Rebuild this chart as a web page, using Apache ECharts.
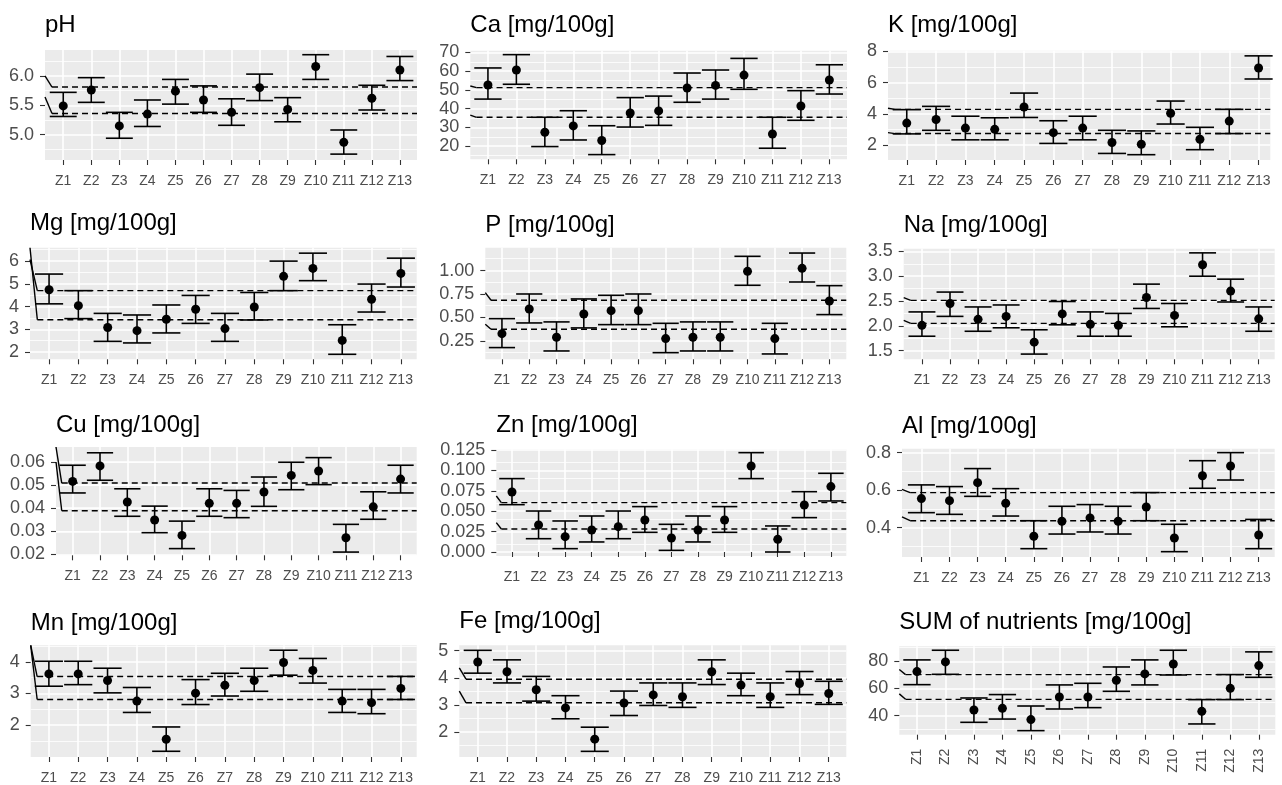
<!DOCTYPE html>
<html><head><meta charset="utf-8">
<script src="https://cdn.jsdelivr.net/npm/echarts@6/dist/echarts.min.js"></script>
<style>html,body{margin:0;padding:0;background:#fff}#c{width:1282px;height:785px}</style>
</head><body><div id="c"></div>
<script>
const categories = ['Z1','Z2','Z3','Z4','Z5','Z6','Z7','Z8','Z9','Z10','Z11','Z12','Z13'];

// pH
const meanPH = [5.49,5.76,5.15,5.35,5.74,5.59,5.38,5.80,5.43,6.16,4.87,5.62,6.10];
const lowPH  = [5.31,5.55,4.94,5.14,5.52,5.38,5.16,5.58,5.22,5.94,4.67,5.42,5.92];
const highPH = [5.72,5.97,5.38,5.59,5.94,5.83,5.61,6.03,5.63,6.36,5.08,5.84,6.33];
const refPH = [5.81,5.36], leadPH = [6.0,5.64];
const yTicksPH = ['5.0','5.5','6.0'], yRangePH = [4.57,6.44];

// Ca
const meanCa = [52.6,60.6,27.4,30.8,23.0,37.7,38.8,51.0,52.4,57.9,26.5,41.4,55.3];
const lowCa  = [45.1,53.0,19.8,23.3,15.5,30.2,31.1,43.4,45.1,50.3,18.9,33.8,47.8];
const highCa = [61.7,68.8,35.4,38.9,30.9,45.9,46.7,59.0,60.6,66.8,35.4,49.6,63.4];
const refCa = [51.2,35.4], leadCa = [52.1,36.6];
const yTicksCa = ['20','30','40','50','60','70'], yRangeCa = [13.0,70.9];

// K
const meanK = [3.41,3.64,3.09,3.01,4.44,2.80,3.09,2.17,2.06,4.04,2.38,3.54,6.93];
const lowK  = [2.72,2.95,2.34,2.34,3.77,2.11,2.34,1.47,1.39,3.35,1.71,2.74,6.23];
const highK = [4.27,4.48,3.85,3.75,5.33,3.56,3.85,2.95,2.91,4.82,3.14,4.29,7.71];
const refK = [4.29,2.74], leadK = [4.36,2.80];
const yTicksK = ['2','4','6','8'], yRangeK = [1.05,8.04];

// Mg
const meanMg = [4.74,4.04,3.08,2.94,3.44,3.88,3.03,3.98,5.33,5.68,2.51,4.32,5.46];
const lowMg  = [4.12,3.47,2.47,2.40,2.84,3.26,2.47,3.41,4.70,5.14,1.90,3.76,4.86];
const highMg = [5.43,4.70,3.70,3.63,4.07,4.49,3.70,4.62,6.00,6.35,3.20,4.99,6.13];
const refMg = [4.70,3.42], leadMg = [6.07,6.59];
const yTicksMg = ['2','3','4','5','6'], yRangeMg = [1.68,6.59];

// P
const meanP = [0.328,0.591,0.289,0.538,0.573,0.573,0.275,0.289,0.289,0.993,0.275,1.025,0.676];
const lowP  = [0.179,0.442,0.143,0.389,0.424,0.424,0.125,0.143,0.143,0.844,0.111,0.879,0.531];
const highP = [0.488,0.751,0.453,0.698,0.737,0.751,0.438,0.453,0.453,1.153,0.438,1.188,0.840];
const refP = [0.684,0.374], leadP = [0.765,0.428];
const yTicksP = ['0.25','0.50','0.75','1.00'], yRangeP = [0.054,1.245];

// Na
const meanNa = [2.01,2.45,2.13,2.19,1.67,2.24,2.03,2.01,2.57,2.21,3.23,2.70,2.14];
const lowNa  = [1.79,2.19,1.89,1.96,1.43,2.02,1.79,1.79,2.35,1.98,3.00,2.48,1.89];
const highNa = [2.28,2.68,2.38,2.42,1.92,2.49,2.28,2.25,2.84,2.45,3.47,2.94,2.38];
const refNa = [2.513,2.050], leadNa = [2.567,2.11];
const yTicksNa = ['1.5','2.0','2.5','3.0','3.5'], yRangeNa = [1.325,3.554];

// Cu
const meanCu = [0.0516,0.0583,0.0427,0.0349,0.0282,0.0421,0.0421,0.0470,0.0542,0.0561,0.0272,0.0406,0.0526];
const lowCu  = [0.0466,0.0521,0.0365,0.0294,0.0225,0.0365,0.0359,0.0408,0.0480,0.0502,0.0210,0.0352,0.0466];
const highCu = [0.0586,0.0640,0.0484,0.0409,0.0344,0.0484,0.0477,0.0535,0.0599,0.0619,0.0330,0.0471,0.0586];
const refCu = [0.0509,0.0389], leadCu = [0.0665,0.0600];
const yTicksCu = ['0.02','0.03','0.04','0.05','0.06'], yRangeCu = [0.0196,0.0665];

// Zn
const meanZn = [0.0735,0.0331,0.0188,0.0270,0.0310,0.0392,0.0172,0.0270,0.0392,0.1054,0.0155,0.0576,0.0801];
const lowZn  = [0.0580,0.0163,0.0041,0.0123,0.0163,0.0241,0.0020,0.0123,0.0241,0.0899,0.0000,0.0421,0.0625];
const highZn = [0.0899,0.0502,0.0380,0.0441,0.0502,0.0556,0.0339,0.0441,0.0556,0.1217,0.0319,0.0739,0.0964];
const refZn = [0.0605,0.0282], leadZn = [0.0686,0.036];
const yTicksZn = ['0.000','0.025','0.050','0.075','0.100','0.125'], yRangeZn = [-0.0049,0.1258];

// Al
const meanAl = [0.555,0.544,0.640,0.530,0.354,0.434,0.452,0.434,0.510,0.345,0.677,0.729,0.361];
const lowAl  = [0.480,0.471,0.567,0.462,0.288,0.366,0.377,0.366,0.437,0.272,0.610,0.654,0.288];
const highAl = [0.628,0.619,0.715,0.608,0.437,0.514,0.523,0.514,0.587,0.418,0.757,0.800,0.444];
const refAl = [0.587,0.437], leadAl = [0.604,0.457];
const yTicksAl = ['0.4','0.6','0.8'], yRangeAl = [0.2436,0.821];

// Mn
const meanMn = [3.62,3.62,3.41,2.76,1.55,3.01,3.26,3.41,3.98,3.73,2.76,2.71,3.16];
const lowMn  = [3.23,3.28,3.02,2.40,1.17,2.65,2.92,3.07,3.58,3.33,2.40,2.36,2.81];
const highMn = [4.02,4.02,3.80,3.19,1.94,3.44,3.64,3.80,4.37,4.11,3.13,3.13,3.54];
const refMn = [3.537,2.811], leadMn = [4.526,4.526];
const yTicksMn = ['2','3','4'], yRangeMn = [0.989,4.526];

// Fe
const meanFe = [4.58,4.22,3.56,2.89,1.74,3.07,3.37,3.30,4.22,3.73,3.30,3.79,3.42];
const lowFe  = [4.17,3.81,3.14,2.49,1.29,2.61,2.98,2.91,3.75,3.34,2.91,3.38,3.02];
const highFe = [5.01,4.66,4.05,3.34,2.18,3.51,3.81,3.81,4.66,4.17,3.81,4.23,3.87];
const refFe = [3.947,3.078], leadFe = [4.363,3.506];
const yTicksFe = ['2','3','4','5'], yRangeFe = [1.082,5.196];

// SUM
const meanSum = [72.4,79.5,44.2,45.4,37.1,53.7,53.7,66.0,70.7,78.0,43.2,60.1,76.8];
const lowSum  = [62.8,70.4,35.1,37.5,29.0,44.9,45.9,57.9,62.6,69.9,33.9,51.8,68.2];
const highSum = [81.0,88.1,53.0,55.5,47.1,62.6,63.8,75.8,81.0,88.1,51.8,70.2,86.9];
const refSum = [70.2,52.0], leadSum = [73.9,56.0];
const yTicksSum = ['40','60','80'], yRangeSum = [26.0,91.0];

const panels = [
  {title:'pH', mean:meanPH, low:lowPH, high:highPH, ref:refPH, lead:leadPH, ticks:yTicksPH, range:yRangePH},
  {title:'Ca [mg/100g]', mean:meanCa, low:lowCa, high:highCa, ref:refCa, lead:leadCa, ticks:yTicksCa, range:yRangeCa},
  {title:'K [mg/100g]', mean:meanK, low:lowK, high:highK, ref:refK, lead:leadK, ticks:yTicksK, range:yRangeK},
  {title:'Mg [mg/100g]', mean:meanMg, low:lowMg, high:highMg, ref:refMg, lead:leadMg, ticks:yTicksMg, range:yRangeMg},
  {title:'P [mg/100g]', mean:meanP, low:lowP, high:highP, ref:refP, lead:leadP, ticks:yTicksP, range:yRangeP},
  {title:'Na [mg/100g]', mean:meanNa, low:lowNa, high:highNa, ref:refNa, lead:leadNa, ticks:yTicksNa, range:yRangeNa},
  {title:'Cu [mg/100g]', mean:meanCu, low:lowCu, high:highCu, ref:refCu, lead:leadCu, ticks:yTicksCu, range:yRangeCu},
  {title:'Zn [mg/100g]', mean:meanZn, low:lowZn, high:highZn, ref:refZn, lead:leadZn, ticks:yTicksZn, range:yRangeZn},
  {title:'Al [mg/100g]', mean:meanAl, low:lowAl, high:highAl, ref:refAl, lead:leadAl, ticks:yTicksAl, range:yRangeAl},
  {title:'Mn [mg/100g]', mean:meanMn, low:lowMn, high:highMn, ref:refMn, lead:leadMn, ticks:yTicksMn, range:yRangeMn},
  {title:'Fe [mg/100g]', mean:meanFe, low:lowFe, high:highFe, ref:refFe, lead:leadFe, ticks:yTicksFe, range:yRangeFe},
  {title:'SUM of nutrients [mg/100g]', mean:meanSum, low:lowSum, high:highSum, ref:refSum, lead:leadSum, ticks:yTicksSum, range:yRangeSum}
];

// layout: [left, top, right, bottom, xmin, xmax, titleBaseline]
const layout = [
  [45,50,417,160,0.35,13.61,33],
  [470.3,50.7,847,159.3,0.38,13.62,33.3],
  [888,50.7,1270.3,160,0.36,13.40,33.3],
  [30,247.7,416.7,359.3,0.35,13.54,231],
  [485.3,247.7,846.3,359.3,0.39,13.62,233.3],
  [903.7,248.7,1274.7,359.3,0.35,13.57,233.3],
  [56,447,416.7,555.3,0.39,13.59,433.7],
  [496.3,449.3,846.3,556,0.41,13.58,433.7],
  [902,448.7,1274.7,557,0.31,13.57,434.7],
  [30.7,645.3,416.7,757.3,0.38,13.54,631.3],
  [459.3,645.3,846.3,757.3,0.37,13.60,629.7],
  [899.3,646.3,1275.3,734.7,0.38,13.58,630.7]
];

const FONT = "'Liberation Sans', Arial, sans-serif";
const REF_START = 0.6;
const grid=[], xAxis=[], yAxis=[], series=[], title=[];
const xs = categories.map((c,k)=>k+1);

panels.forEach((p,i)=>{
  const L = layout[i];
  grid.push({left:L[0], top:L[1], width:L[2]-L[0], height:L[3]-L[1], show:true,
    backgroundColor:'#EBEBEB', borderWidth:0, containLabel:false});
  title.push({text:p.title, left:L[0], top:L[6]-20, padding:0,
    textStyle:{fontSize:24, fontWeight:'normal', color:'#000', fontFamily:FONT, lineHeight:24}});
  xAxis.push({gridIndex:i, type:'value', min:L[4], max:L[5],
    axisLine:{show:false},
    axisTick:{show:true, customValues:xs, length:5, lineStyle:{color:'#333333', width:1.1}},
    axisLabel:{show:true, customValues:xs, formatter:v=>categories[Math.round(v)-1] || '',
      color:'#4D4D4D', fontSize:14, fontFamily:FONT, margin:14, rotate:i===11?90:0},
    splitLine:{show:true, lineStyle:{color:'#FFFFFF', width:1.6}}});
  const tv = p.ticks.map(Number);
  yAxis.push({gridIndex:i, type:'value', min:p.range[0], max:p.range[1],
    axisLine:{show:false},
    axisTick:{show:true, customValues:tv, length:5, lineStyle:{color:'#333333', width:1.1}},
    axisLabel:{show:true, customValues:tv, formatter:v=>{const k=tv.findIndex(t=>Math.abs(t-v)<1e-9);return k>=0?p.ticks[k]:'';},
      color:'#4D4D4D', fontSize:18, lineHeight:16, fontFamily:FONT, margin:11, hideOverlap:false},
    splitLine:{show:true, lineStyle:{color:'#FFFFFF', width:1.6}}});
  // minor grid lines halfway between major breaks
  const step = tv[1]-tv[0];
  const minors = [];
  for (let j=-3;j<tv.length+3;j++){const m=tv[0]+(j+0.5)*step; if(m>p.range[0]&&m<p.range[1]) minors.push(m);}
  series.push({type:'line', xAxisIndex:i, yAxisIndex:i, data:[], z:1, silent:true,
    markLine:{silent:true, z:1, symbol:['none','none'], label:{show:false}, animation:false,
      lineStyle:{color:'#FFFFFF', width:0.8, type:'solid'}, data:minors.map(m=>({yAxis:m}))}});
  // reference dashed lines and leaders
  p.ref.forEach((r,k)=>{
    series.push({type:'line', xAxisIndex:i, yAxisIndex:i, data:[[REF_START,r],[L[5],r]], symbol:'none', z:10, silent:true,
      lineStyle:{color:'#000', width:1.4, type:[6,4]}});
    series.push({type:'line', xAxisIndex:i, yAxisIndex:i, data:[[L[4],p.lead[k]],[REF_START,r]], symbol:'none', z:10, silent:true, clip:false,
      lineStyle:{color:'#000', width:1.4}});
  });
  // error bars
  series.push({type:'custom', xAxisIndex:i, yAxisIndex:i, z:11, silent:true,
    data: xs.map((x,k)=>[x,p.low[k],p.high[k]]),
    encode:{x:0, y:[1,2]},
    renderItem:(params,api)=>{
      const x=api.value(0);
      const a=api.coord([x,api.value(1)]), b=api.coord([x,api.value(2)]);
      const h=api.size([0.48,0])[0];
      const st={stroke:'#000', lineWidth:1.6, fill:null};
      return {type:'group', children:[
        {type:'line', shape:{x1:a[0],y1:a[1],x2:b[0],y2:b[1]}, style:st},
        {type:'line', shape:{x1:b[0]-h,y1:b[1],x2:b[0]+h,y2:b[1]}, style:st},
        {type:'line', shape:{x1:a[0]-h,y1:a[1],x2:a[0]+h,y2:a[1]}, style:st}
      ]};
    }});
  // means
  series.push({type:'scatter', xAxisIndex:i, yAxisIndex:i, z:12, silent:true,
    data: xs.map((x,k)=>[x,p.mean[k]]), symbol:'circle', symbolSize:9, itemStyle:{color:'#000', opacity:1}});
});

const chart = echarts.init(document.getElementById('c'), null, {renderer:'canvas'});
chart.setOption({animation:false, backgroundColor:'#fff', title, grid, xAxis, yAxis, series});
</script></body></html>
